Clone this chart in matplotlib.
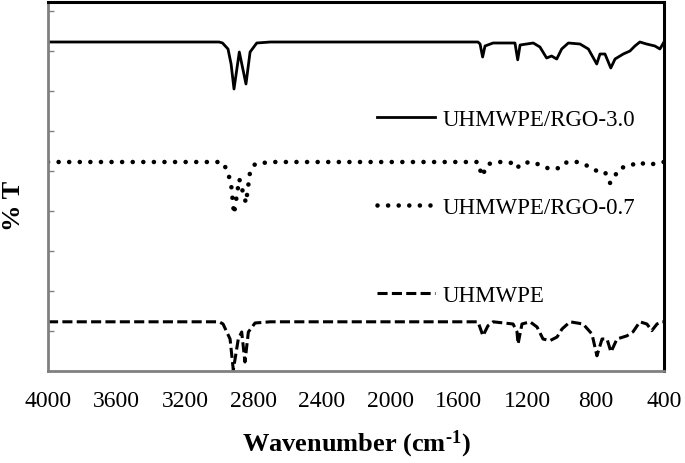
import matplotlib.pyplot as plt

plt.rcParams['font.family'] = ['Liberation Serif', 'DejaVu Serif']
plt.rcParams['mathtext.fontset'] = 'custom'
plt.rcParams['mathtext.rm'] = 'Liberation Serif:bold'
plt.rcParams['mathtext.default'] = 'rm'

# UHMWPE/RGO-3.0 (solid)
wn_30 = [4000, 3000, 2980, 2948, 2930, 2913, 2882, 2843, 2819, 2780, 2700,
         1487, 1475, 1460, 1446, 1399, 1271, 1255, 1241, 1164, 1125, 1086,
         1057, 1027, 998, 959, 891, 842, 793, 774, 745, 711, 686, 638, 599,
         570, 541, 502, 453, 424, 400]
t_30 = [82.25, 82.25, 82.0, 80.5, 76.75, 70.5, 79.75, 71.75, 79.75, 82.0, 82.25,
        82.25, 81.75, 78.5, 81.25, 82.0, 82.0, 77.8, 81.5, 82.0, 81.0, 78.25,
        78.75, 78.0, 80.5, 82.0, 81.75, 80.5, 76.75, 79.25, 79.25, 75.75, 78.0,
        79.25, 80.0, 81.25, 82.25, 81.75, 81.25, 80.5, 82.25]

# UHMWPE/RGO-0.7 (dotted)
wn_07 = [4000, 3000, 2975, 2948, 2930, 2913, 2882, 2843, 2820, 2790, 2700,
         1487, 1464, 1429, 1358, 1282, 1259, 1230, 1166, 1113, 1066, 1008,
         967, 909, 844, 792, 745, 715, 657, 599, 552, 494, 406, 400]
t_07 = [52.25, 52.25, 52.0, 49.5, 46.75, 39.25, 48.0, 42.0, 49.5, 51.75, 52.25,
        52.25, 48.7, 51.75, 52.25, 52.0, 50.75, 52.0, 52.25, 51.25, 50.5, 50.75,
        52.25, 52.25, 51.25, 50.0, 49.75, 47.0, 50.75, 51.25, 52.25, 51.5, 52.25, 52.25]

# UHMWPE (dashed)
wn_pe = [4000, 3000, 2977, 2936, 2917, 2888, 2868, 2849, 2829, 2790, 2700,
         1487, 1458, 1429, 1399, 1282, 1259, 1253, 1230, 1183, 1142, 1107,
         1066, 1025, 996, 949, 873, 821, 792, 762, 733, 710, 675, 616, 581,
         541, 500, 471, 441, 412, 400]
t_pe = [12.3, 12.3, 11.75, 8.0, 0.25, 8.0, 9.75, 2.25, 9.75, 12.0, 12.3,
        12.3, 8.8, 11.3, 12.3, 11.75, 9.75, 6.75, 11.75, 12.3, 11.0, 8.0,
        7.6, 8.5, 10.5, 12.3, 11.75, 9.25, 3.8, 8.0, 8.0, 4.75, 8.0, 8.8, 9.8,
        12.3, 11.75, 10.1, 11.75, 12.3, 12.3]

xticks = [4000, 3600, 3200, 2800, 2400, 2000, 1600, 1200, 800, 400]

fig = plt.figure(figsize=(6.85, 4.64), dpi=100)
ax = fig.add_axes([48/685, 1 - 372/464, 616/685, 369/464])

ax.plot(wn_30, t_30, color='black', lw=2.0, label='UHMWPE/RGO-3.0')
ax.plot(wn_07, t_07, color='black', lw=3.3, linestyle=(0, (0.01, 2.3)),
        dash_capstyle='round', label='UHMWPE/RGO-0.7')
ax.plot(wn_pe, t_pe, color='black', lw=2.2, linestyle=(0, (3.3, 1.4)),
        label='UHMWPE')

ax.set_xlim(4000, 400)
ax.set_ylim(0, 92.25)
ax.set_xticks(xticks)
ax.set_xticklabels([str(v) for v in xticks], fontsize=17)
ax.tick_params(axis='x', length=0, pad=14)
ax.set_yticks(range(10, 100, 10))
ax.set_yticklabels([])
ax.tick_params(axis='y', direction='in', length=4, color='#808080', width=1)

for s in ['top', 'right']:
    ax.spines[s].set_color('black')
    ax.spines[s].set_linewidth(2.2)
for s in ['left', 'bottom']:
    ax.spines[s].set_color('#808080')
    ax.spines[s].set_linewidth(2.0)

ax.set_xlabel('Wavenumber (cm$^{\\text{-1}}$)', fontsize=19, fontweight='bold', labelpad=12)
fig.text(13/685, 1 - 206/464, '% T', fontsize=19, fontweight='bold',
         rotation=90, ha='center', va='center')

ax.legend(loc='upper left', bbox_to_anchor=(377/685, 1 - 110/464),
          bbox_transform=fig.transFigure, frameon=False, fontsize=16.5,
          handlelength=2.53, handletextpad=0.35, labelspacing=2.93,
          borderpad=0, borderaxespad=0)

fig.savefig('out.png', dpi=100)
